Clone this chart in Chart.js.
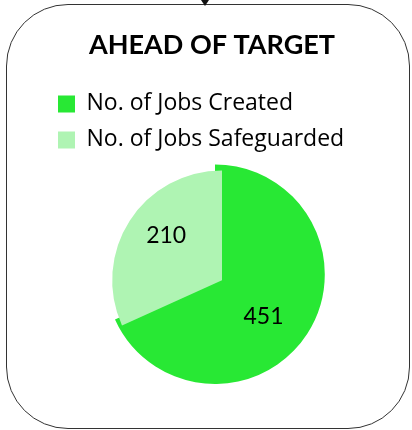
<!DOCTYPE html>
<html>
<head>
<meta charset="utf-8">
<script src="https://cdn.jsdelivr.net/npm/chart.js@4"></script>
<style>
	html, body { margin: 0; padding: 0; background: #fff; }
	#wrap { position: relative; width: 412px; height: 430px; overflow: hidden; }
	#chart { position: absolute; left: 0; top: 0; }
	#frame {
		position: absolute; left: 6px; top: 4px; width: 402px; height: 423px;
		border: 1.5px solid #333; border-radius: 62px; pointer-events: none;
	}
	#arrow-head {
		position: absolute; left: 201px; top: 0; width: 0; height: 0;
		border-left: 4px solid transparent; border-right: 4px solid transparent; border-top: 6px solid #111;
	}
</style>
</head>
<body>
<div id="wrap">
	<canvas id="chart" width="412" height="430"></canvas>
	<div id="frame"></div>
	<div id="arrow-head"></div>
</div>
<script>
	const TITLE = "AHEAD OF TARGET";
	const CATEGORIES = ["No. of Jobs Created", "No. of Jobs Safeguarded"];
	const VALUES = [451, 210];
	const COLORS = ["#28E834", "#AFF4B3"];

	const TITLE_FONT = "Lato, 'Open Sans', sans-serif";
	const LEGEND_FONT = "'Open Sans', Lato, sans-serif";

	// Value labels inside slices
	const sliceLabels = {
		id: "sliceLabels",
		afterDatasetsDraw(chart) {
			const { ctx } = chart;
			const meta = chart.getDatasetMeta(0);
			ctx.save();
			ctx.fillStyle = "#000";
			ctx.font = "23px " + TITLE_FONT;
			ctx.textAlign = "center";
			ctx.textBaseline = "middle";
			meta.data.forEach((arc, i) => {
				const mid = (arc.startAngle + arc.endAngle) / 2 + (i === 0 ? 0.14 : 0.1);
				const r = arc.outerRadius * (i === 0 ? 0.5 : 0.65);
				ctx.fillText(String(VALUES[i]), arc.x + Math.cos(mid) * r, arc.y + Math.sin(mid) * r);
			});
			ctx.restore();
		},
	};

	// The big slice sits a few pixels up and left of the small one,
	// and the title is centred a little left of the pie
	const nudges = {
		id: "nudges",
		beforeDraw(chart) {
			const arc = chart.getDatasetMeta(0).data[0];
			if (arc && !arc._shifted) {
				const draw = arc.draw;
				arc.draw = function (ctx, area) {
					ctx.save();
					ctx.translate(-7, -6);
					draw.call(this, ctx, area);
					ctx.restore();
				};
				arc._shifted = true;
			}
			const title = chart.titleBlock;
			if (title && !title._shifted) {
				const draw = title.draw;
				title.draw = function () {
					chart.ctx.save();
					chart.ctx.translate(-10, 0);
					draw.call(this);
					chart.ctx.restore();
				};
				title._shifted = true;
			}
		},
	};

	// Extra room under the legend
	const legendGap = {
		id: "legendGap",
		beforeInit(chart) {
			const fit = chart.legend.fit;
			chart.legend.fit = function () {
				fit.call(this);
				this.height += 9;
			};
		},
	};

	const CHART_DATA = {
		labels: CATEGORIES,
		datasets: [
			{
				data: VALUES,
				backgroundColor: COLORS,
				borderWidth: 0,
			},
		],
	};

	const CHART_CONFIG = {
		type: "pie",
		data: CHART_DATA,
		options: {
			responsive: false,
			animation: false,
			layout: {
				padding: { left: 45, right: 13, top: 8, bottom: 40 },
			},
			plugins: {
				title: {
					display: true,
					text: TITLE,
					color: "#000",
					font: { family: TITLE_FONT, size: 27, weight: "bold" },
					padding: { top: 21, bottom: 18 },
				},
				legend: {
					position: "top",
					align: "start",
					labels: {
						color: "#000",
						font: { family: LEGEND_FONT, size: 23 },
						boxWidth: 17,
						boxHeight: 17,
						padding: 13,
					},
				},
				tooltip: { enabled: false },
			},
		},
		plugins: [legendGap, nudges, sliceLabels],
	};

	new Chart(document.getElementById("chart"), CHART_CONFIG);
</script>
</body>
</html>
